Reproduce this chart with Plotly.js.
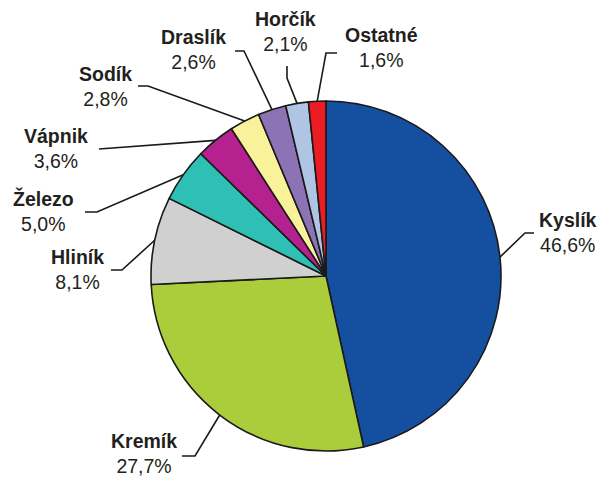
<!DOCTYPE html>
<html>
<head>
<meta charset="utf-8">
<script src="https://cdn.plot.ly/plotly-3.0.1.min.js"></script>
<style>html,body{margin:0;padding:0;background:#fff;}#chart{width:601px;height:477px;}</style>
</head>
<body>
<div id="chart"></div>
<script>
// ---- data ----
var labels = ["Kyslík", "Kremík", "Hliník", "Železo", "Vápnik", "Sodík", "Draslík", "Horčík", "Ostatné"];
var values = [46.6, 27.7, 8.1, 5.0, 3.6, 2.8, 2.6, 2.1, 1.6];
var valueText = ["46,6%", "27,7%", "8,1%", "5,0%", "3,6%", "2,8%", "2,6%", "2,1%", "1,6%"];

// ---- style / layout ----
var colors = ["#1550a0", "#abcd3c", "#d0d0d0", "#2ebfb5", "#b5218f", "#faf29a", "#8b73b5", "#b0c4e4", "#ec1c24"];
var W = 601, H = 477;
var pieCx = 326, pieCy = 276, pieR = 175;
// leader line: elbow point and tail end (pixels), label centre (pixels)
var elbows = [[525,233],[195,456],[122,270],[97,212],[99,149],[148,86],[244,51],[287,78],[326,53]];
var tails  = [[534,233],[182,456],[111,270],[85,212],[99,149],[138,86],[235,51],[287,66],[337,53]];
var labelPos = [[568,232],[144,453],[77,269],[43,211],[56,148],[105,86],[193,49],[285,31],[381,48]];

function px(x){ return x / W; }
function py(y){ return 1 - y / H; }

var total = values.reduce(function(a,b){return a+b;}, 0);
var shapes = [], annotations = [];
var cum = 0;
for (var i = 0; i < values.length; i++) {
  var mid = (cum + values[i] / 2) / total * 2 * Math.PI;
  cum += values[i];
  var ex = pieCx + pieR * Math.sin(mid);
  var ey = pieCy - pieR * Math.cos(mid);
  var path = "M" + px(ex) + "," + py(ey) +
             " L" + px(elbows[i][0]) + "," + py(elbows[i][1]) +
             " L" + px(tails[i][0]) + "," + py(tails[i][1]);
  shapes.push({type: "path", xref: "paper", yref: "paper", path: path,
               line: {color: "#1a1a1a", width: 1.6}, layer: "below"});
  annotations.push({
    xref: "paper", yref: "paper",
    x: px(labelPos[i][0]), y: py(labelPos[i][1]),
    xanchor: "center", yanchor: "middle", align: "center",
    showarrow: false,
    text: "<b>" + labels[i] + "</b><br>" + valueText[i],
    font: {family: "Liberation Sans, Arial, sans-serif", size: 19.5, color: "#231f20"}
  });
}

var trace = {
  type: "pie",
  labels: labels,
  values: values,
  sort: false,
  direction: "clockwise",
  rotation: 0,
  textinfo: "none",
  hoverinfo: "none",
  marker: {colors: colors, line: {color: "#1a1a1a", width: 1.6}},
  domain: {x: [(pieCx - pieR) / W, (pieCx + pieR) / W],
           y: [1 - (pieCy + pieR) / H, 1 - (pieCy - pieR) / H]}
};

var layout = {
  width: W, height: H,
  margin: {l: 0, r: 0, t: 0, b: 0},
  showlegend: false,
  paper_bgcolor: "#ffffff",
  plot_bgcolor: "#ffffff",
  shapes: shapes,
  annotations: annotations
};

Plotly.newPlot("chart", [trace], layout, {displayModeBar: false, staticPlot: true});
</script>
</body>
</html>
